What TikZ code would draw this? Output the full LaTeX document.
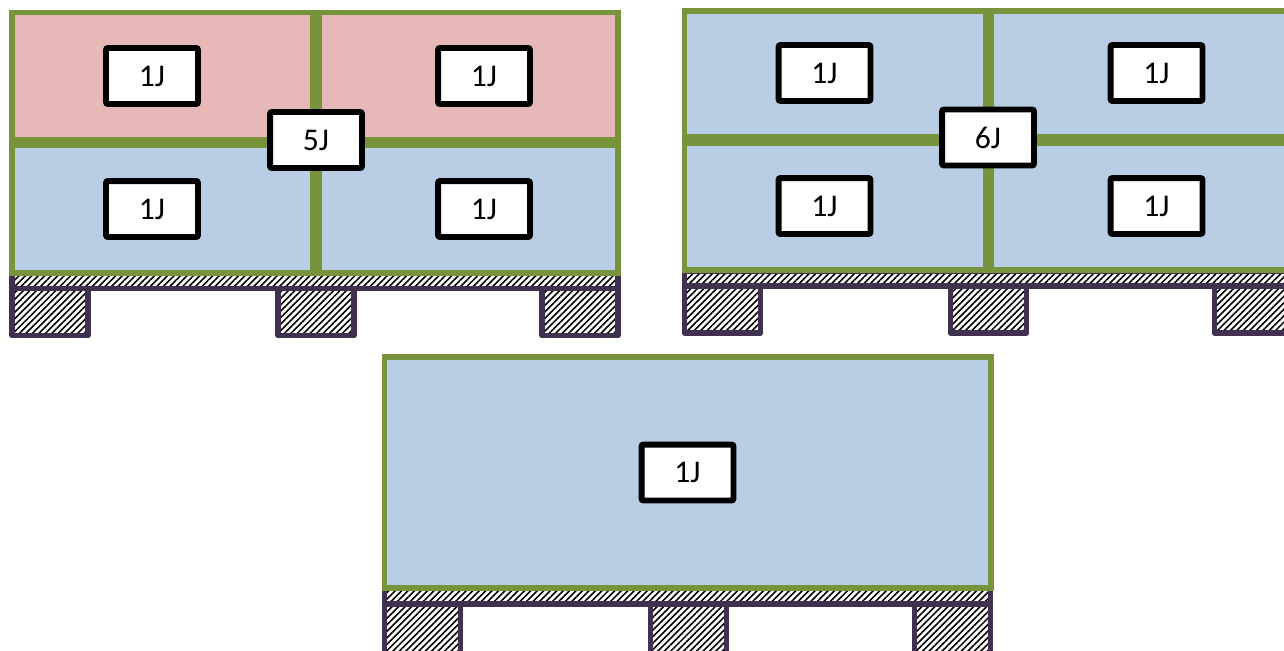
\documentclass[tikz,border=0pt]{standalone}
\usepackage{fontspec}
\setmainfont{Carlito}
\usetikzlibrary{patterns.meta}
\definecolor{loadpink}{HTML}{E6B9B8}
\definecolor{loadblue}{HTML}{B9CDE4}
\definecolor{loadgreen}{HTML}{77933C}
\definecolor{palletpurple}{HTML}{403151}
\tikzset{
  loadbox/.style={draw=loadgreen, line width=3.4pt},
  hatchwood/.style={draw=palletpurple, line width=3.2pt, line join=round,
    preaction={fill=white},
    pattern={Lines[angle=45,distance=2.6pt,line width=0.9pt]}, pattern color=black},
  tag/.style={draw=black, fill=white, line width=3.4pt, rounded corners=1.2pt,
    minimum width=1.84cm, minimum height=1.12cm, inner sep=0pt,
    font=\fontsize{18}{20}\selectfont}
}
\begin{document}
\begin{tikzpicture}[x=0.02cm, y=-0.02cm]
\useasboundingbox (0,0) rectangle (1284,650);
\clip (0,0) rectangle (1284,650);
% ---------- pallet 1 ----------
\begin{scope}[shift={(12,12.5)}]
  \path[hatchwood] (0,261) rectangle (606,276);
  \path[hatchwood] (0,276) rectangle (76,323);
  \path[hatchwood] (266,276) rectangle (342,323);
  \path[hatchwood] (530,276) rectangle (606,323);
  \path[loadbox, fill=loadpink] (0,0) rectangle (301,127.5);
  \path[loadbox, fill=loadpink] (307,0) rectangle (606,127.5);
  \path[loadbox, fill=loadblue] (0,132.5) rectangle (301,260.5);
  \path[loadbox, fill=loadblue] (307,132.5) rectangle (606,260.5);
  \node[tag] (a1) at (140,63.5) {1J};
  \node[tag] (a2) at (472,63.5) {1J};
  \node[tag] (a3) at (140,196.5) {1J};
  \node[tag] (a4) at (472,196.5) {1J};
  \node[tag] (a5) at (304,127.5) {5J};
\end{scope}
% ---------- pallet 2 ----------
\begin{scope}[shift={(684.5,11)}]
  \path[hatchwood] (0,260) rectangle (606,275);
  \path[hatchwood] (0,275) rectangle (76,322);
  \path[hatchwood] (266,275) rectangle (342,322);
  \path[hatchwood] (530,275) rectangle (606,322);
  \path[loadbox, fill=loadblue] (0,0) rectangle (301,126);
  \path[loadbox, fill=loadblue] (306,0) rectangle (606,126);
  \path[loadbox, fill=loadblue] (0,132) rectangle (301,259);
  \path[loadbox, fill=loadblue] (306,132) rectangle (606,259);
  \node[tag] (b1) at (140,62) {1J};
  \node[tag] (b2) at (472,62) {1J};
  \node[tag] (b3) at (140,195) {1J};
  \node[tag] (b4) at (472,195) {1J};
  \node[tag] (b5) at (303.5,126.5) {6J};
\end{scope}
% ---------- pallet 3 ----------
\begin{scope}[shift={(384.5,357)}]
  \path[hatchwood] (0,231) rectangle (606,247);
  \path[hatchwood] (0,247) rectangle (76,310);
  \path[hatchwood] (266,247) rectangle (342,310);
  \path[hatchwood] (530,247) rectangle (606,310);
  \path[loadbox, fill=loadblue] (0,0) rectangle (606,231);
  \node[tag] (c1) at (303,115.5) {1J};
\end{scope}
\end{tikzpicture}
\end{document}
